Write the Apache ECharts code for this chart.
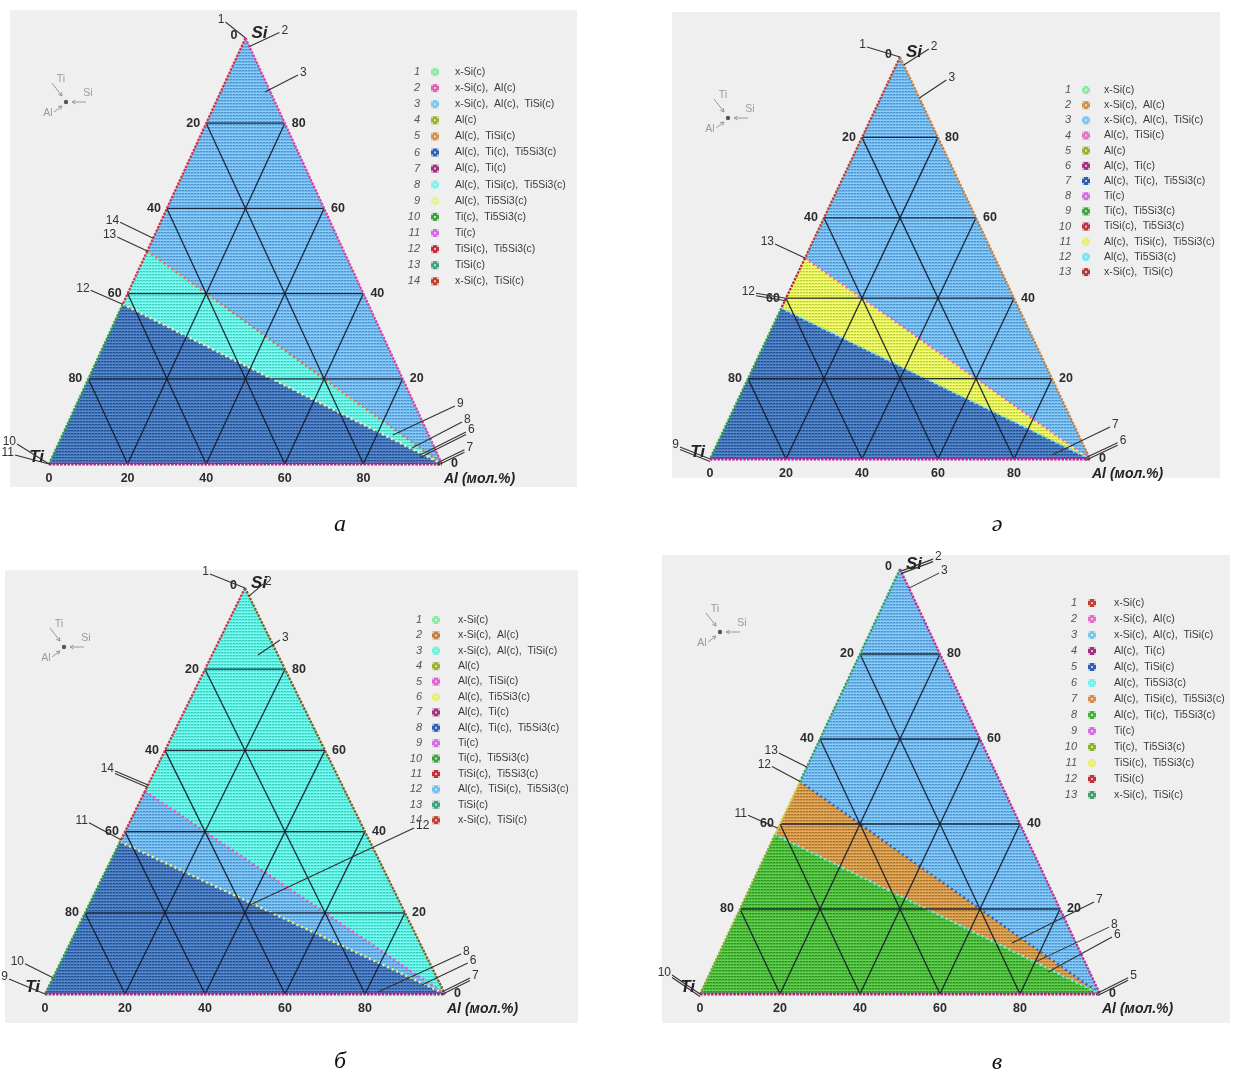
<!DOCTYPE html>
<html><head><meta charset="utf-8">
<script src="https://cdn.jsdelivr.net/npm/echarts@6/dist/echarts.min.js"></script>
<style>html,body{margin:0;padding:0;background:#fff}#c{width:1234px;height:1076px}</style>
</head><body><div id="c"></div>
<script>
// ---------- DATA ----------
// phase compositions, mol.% [Ti, Si, Al]
const SI = [0,100,0], TISI = [50,50,0], TI5SI3 = [62.5,37.5,0], TI = [100,0,0], AL = [0,0,100];
// phase-field polygons (same topology on the four sections)
const REGIONS = [[SI,TISI,AL],[TISI,TI5SI3,AL],[TI5SI3,TI,AL]];
const BOUNDS = [[TISI,AL],[TI5SI3,AL]];
const EDGES = [[SI,TISI],[TISI,TI5SI3],[TI5SI3,TI],[SI,AL],[TI,AL]];
const gridTicks = [20,40,60,80];
const tiTicks = [0,20,40,60,80];     // left side (Ti)
const siTicks = [80,60,40,20,0];     // right side (Si)
const alTicks = [0,20,40,60,80];     // base (Al)
const captions = ['а','ә','б','в'];

const legA = ['x-Si(c)','x-Si(c),  Al(c)','x-Si(c),  Al(c),  TiSi(c)','Al(c)','Al(c),  TiSi(c)','Al(c),  Ti(c),  Ti5Si3(c)','Al(c),  Ti(c)','Al(c),  TiSi(c),  Ti5Si3(c)','Al(c),  Ti5Si3(c)','Ti(c),  Ti5Si3(c)','Ti(c)','TiSi(c),  Ti5Si3(c)','TiSi(c)','x-Si(c),  TiSi(c)'];
const legB = ['x-Si(c)','x-Si(c),  Al(c)','x-Si(c),  Al(c),  TiSi(c)','Al(c),  TiSi(c)','Al(c)','Al(c),  Ti(c)','Al(c),  Ti(c),  Ti5Si3(c)','Ti(c)','Ti(c),  Ti5Si3(c)','TiSi(c),  Ti5Si3(c)','Al(c),  TiSi(c),  Ti5Si3(c)','Al(c),  Ti5Si3(c)','x-Si(c),  TiSi(c)'];
const legC = ['x-Si(c)','x-Si(c),  Al(c)','x-Si(c),  Al(c),  TiSi(c)','Al(c)','Al(c),  TiSi(c)','Al(c),  Ti5Si3(c)','Al(c),  Ti(c)','Al(c),  Ti(c),  Ti5Si3(c)','Ti(c)','Ti(c),  Ti5Si3(c)','TiSi(c),  Ti5Si3(c)','Al(c),  TiSi(c),  Ti5Si3(c)','TiSi(c)','x-Si(c),  TiSi(c)'];
const legD = ['x-Si(c)','x-Si(c),  Al(c)','x-Si(c),  Al(c),  TiSi(c)','Al(c),  Ti(c)','Al(c),  TiSi(c)','Al(c),  Ti5Si3(c)','Al(c),  TiSi(c),  Ti5Si3(c)','Al(c),  Ti(c),  Ti5Si3(c)','Ti(c)','Ti(c),  Ti5Si3(c)','TiSi(c),  Ti5Si3(c)','TiSi(c)','x-Si(c),  TiSi(c)'];
const LEGENDS = [legA, legB, legC, legD];

// callouts: [label, anchor composition [Ti,Si,Al], double leader]
const callA = [['1',SI],['2',[0,98,2]],['3',[1.4,87.3,11.3]],['14',[47,53,0]],['13',TISI],['12',TI5SI3],['10',TI],['11',TI],['9',[9.1,6.8,84.1]],['8',[5.75,3.75,90.5]],['6',[4.55,2.1,93.35],1],['7',[1,0.3,98.7],1]];
const callB = [['1',SI],['2',[0,98,2]],['3',[0,89.8,10.2]],['13',TISI],['12',[60,40,0],1],['9',TI,1],['7',[9.5,1,89.5]],['6',[1,0.3,98.7],1]];
const callC = [['1',SI],['2',[0,98,2]],['3',[5,83.5,11.5]],['14',[48.5,51.5,0],1],['11',[62,38,0]],['12',[37.8,21.9,40.3]],['10',[96,4,0]],['9',TI],['8',[16.5,0.5,83]],['6',[4.7,2.2,93.1]],['7',[0.5,0.5,99],1]];
const callD = [['2',[0,99.5,0.5],1],['3',[0,95.5,4.5]],['13',[46.6,53.4,0]],['12',TISI],['11',[61,39,0]],['10',TI,1],['7',[16,12,72]],['8',[12.5,7.5,80]],['6',[10.4,5.2,84.4]],['5',[0.3,0.3,99.4],1]];
const CALLS = [callA, callB, callC, callD];

// ---------- STYLE / LAYOUT ----------
const LAYOUT = [
 {bg:[10,10,567,477], tri:[49,442,464,38], leg:[420,435,455,72,16.1], ori:[66,102], cap:[340,525]},
 {bg:[672,12,548,466], tri:[710,1090,459,57], leg:[1071,1086,1104,90,15.17], ori:[728,118], cap:[997,525]},
 {bg:[5,570,573,453], tri:[45,445,994,588], leg:[422,436,458,620,15.4], ori:[64,647], cap:[340,1062]},
 {bg:[662,555,568,468], tri:[700,1100,994,569], leg:[1077,1092,1114,603,16], ori:[720,632], cap:[997,1063]}
];
// callout leader offsets (px) per panel, same order as callouts
const CALL_OFF = [
 [[-20,-16],[30,-14],[33,-17],[-33,-16],[-30,-14],[-32,-14],[-32,-20],[-34,-9],[62,-29],[50,-26],[46,-23],[27,-13]],
 [[-33,-10],[25,-16],[27,-18],[-30,-14],[-30,-5],[-30,-12],[58,-28],[32,-15]],
 [[-35,-14],[14,-12],[22,-15],[-33,-14],[-32,-17],[164,-77],[-28,-14],[-36,-15],[83,-38],[46,-22],[28,-14]],
 [[32,-12],[30,-15],[-28,-14],[-28,-15],[-30,-13],[-28,-19],[82,-41],[74,-35],[64,-35],[30,-15]]
];
const FILLS = [
 ['#70b6eb','#66efe0','#4173b6'],
 ['#70b6eb','#e2f05c','#4173b6'],
 ['#5eedde','#6cb3e8','#4173b6'],
 ['#70b6eb','#cf9548','#4cb83c']
];
const BOUND_COL = [['#e07040','#f4f4a8'],['#f060c0','#70e0f0'],['#f050c0','#f0f080'],['#2f5fc0','#60f0f0']];
const EDGE_COL = [
 ['#d83040','#d83040','#30a040','#e040a0','#a02880'],
 ['#c04030','#c02040','#30a040','#c88040','#c02090'],
 ['#d03040','#d03040','#30a040','#806020','#a02880'],
 ['#30a060','#d0d040','#80b030','#c03090','#a02880']
];
const LEG_COL = [
 ['#90e8a8','#e060b0','#80c4ee','#9cb030','#d09050','#2f5fb0','#a03080','#80f2ea','#e8f098','#40a040','#d070e0','#c03040','#40a080','#c04030'],
 ['#90e8a8','#d09050','#80c4ee','#e070c8','#9cb030','#a03080','#2f5fb0','#d070e0','#40a040','#c03040','#e8f070','#70e8f0','#b04040'],
 ['#90e8a8','#c08040','#70f0e0','#9cb030','#e060d0','#e8f070','#a03080','#2f5fb0','#d070e0','#40a040','#c03040','#70c0ee','#40a080','#c04030'],
 ['#c04030','#e070c8','#80c4ee','#a03080','#2f5fb0','#70f0f0','#d09050','#40b040','#d070e0','#8cb030','#e8f070','#c03040','#40a070']
];

function hex2rgb(h){h=h.replace('#','');return [0,2,4].map(i=>parseInt(h.substr(i,2),16));}
function rgb(a){return 'rgb('+a.map(v=>Math.max(0,Math.min(255,Math.round(v)))).join(',')+')';}
function makePattern(avg,d){
  const m=hex2rgb(avg), L=m.map(v=>v+d), D=m.map(v=>v-1.5*d);
  const cv=document.createElement('canvas'); cv.width=3; cv.height=3;
  const g=cv.getContext('2d');
  g.fillStyle=rgb(m); g.fillRect(0,0,3,3);
  g.fillStyle=rgb(L); g.fillRect(0,0,3,1);
  g.fillStyle=rgb(D); g.fillRect(0,1,1,1); g.fillRect(2,1,1,1);
  return {image:cv, repeat:'repeat'};
}
const PAT = FILLS.map(row=>row.map(c=>makePattern(c,24)));

// ternary -> cartesian data units (x: 0..100 along Ti->Al, y: Si %)
function tern(p){const s=p[0]+p[1]+p[2]; const si=p[1]/s*100, al=p[2]/s*100; return [al+si/2, si];}

function txt(x,y,text,font,fill,align,valign){
  return {type:'text', z:100, x:x, y:y, style:{text:text, font:font, fill:fill, align:align||'left', verticalAlign:valign||'middle', textAlign:align||'left', textVerticalAlign:valign||'middle'}};
}
function seg(a,b,stroke,w,dash){
  const st={stroke:stroke, lineWidth:w}; if(dash) st.lineDash=dash;
  return {type:'line', z:100, shape:{x1:a[0],y1:a[1],x2:b[0],y2:b[1]}, style:st};
}

const TICKFONT='bold 12.5px "Liberation Sans", Arial, sans-serif';
const TICKCOL='#2b2b2b';

function renderPanel(i){
  return function(params, api){
    if(params.dataIndex!==0) return null;
    const c = p => api.coord(tern(p));
    const kids=[];
    REGIONS.forEach((poly,k)=>kids.push({type:'polygon', shape:{points:poly.map(c)}, style:{fill:PAT[i][k]}}));
    BOUNDS.forEach((b,k)=>kids.push(seg(c(b[0]),c(b[1]),BOUND_COL[i][k],2.4,[2,3])));
    gridTicks.forEach(k=>{
      [[[100-k,k,0],[0,k,100-k]],[[100-k,0,k],[0,100-k,k]],[[k,100-k,0],[k,0,100-k]]].forEach(s=>{
        kids.push(seg(c(s[0]),c(s[1]),'rgba(20,25,40,0.9)',1.3));
      });
    });
    EDGES.forEach((e,k)=>kids.push(seg(c(e[0]),c(e[1]),EDGE_COL[i][k],k===4?3:2.2,[2.5,1.2])));
    // tick labels
    tiTicks.forEach(v=>{const p=c([v,100-v,0]); kids.push(txt(p[0]-(v===0?8:6),p[1]+(v===0?-2:0),String(v),TICKFONT,TICKCOL,'right'));});
    siTicks.forEach(v=>{const p=c([0,v,100-v]); kids.push(txt(p[0]+(v===0?9:7),p[1],String(v),TICKFONT,TICKCOL,'left'));});
    alTicks.forEach(v=>{const p=c([100-v,0,v]); kids.push(txt(p[0],p[1]+15,String(v),TICKFONT,TICKCOL,'center'));});
    // vertex labels
    const ps=c(SI), pt=c(TI), pa=c(AL);
    kids.push(txt(ps[0]+6,ps[1]-5,'Si','bold italic 17px "Liberation Sans", Arial, sans-serif','#222','left'));
    kids.push(txt(pt[0]-5,pt[1]-7,'Ti','bold italic 17px "Liberation Sans", Arial, sans-serif','#222','right'));
    kids.push(txt(pa[0]+2,pa[1]+15,'Al (мол.%)','bold italic 14px "Liberation Sans", Arial, sans-serif','#222','left'));
    // callouts
    CALLS[i].forEach((cl,k)=>{
      const a=c(cl[1]), o=CALL_OFF[i][k], e=[a[0]+o[0], a[1]+o[1]];
      kids.push(seg(a,e,'#333',1.1));
      if(cl[2]){kids.push(seg([a[0],a[1]+2.5],[e[0],e[1]+2.5],'#333',1.1));}
      kids.push(txt(e[0]+(o[0]<0?-1:2), e[1]-2, cl[0], '12px "Liberation Sans", Arial, sans-serif', '#333', o[0]<0?'right':'left'));
    });
    return {type:'group', children:kids};
  };
}
function renderBg(i){
  return function(params, api){
    if(params.dataIndex!==0) return null;
    const b=LAYOUT[i].bg;
    return {type:'rect', shape:{x:b[0],y:b[1],width:b[2],height:b[3]}, style:{fill:'#efefef'}};
  };
}

const grids=[], xAxes=[], yAxes=[], series=[], elements=[];
LAYOUT.forEach((L,i)=>{
  const t=L.tri;
  grids.push({left:t[0], top:t[3], width:t[1]-t[0], height:t[2]-t[3], containLabel:false});
  xAxes.push({gridIndex:i, type:'value', min:0, max:100, show:false});
  yAxes.push({gridIndex:i, type:'value', min:0, max:100, show:false});
  series.push({type:'custom', xAxisIndex:i, yAxisIndex:i, z:1, silent:true, data:[[50,50]], renderItem:renderBg(i)});
  series.push({type:'custom', xAxisIndex:i, yAxisIndex:i, z:2, silent:true, data:[[50,50]], renderItem:renderPanel(i)});
  // legend
  const lg=L.leg;
  LEGENDS[i].forEach((name,k)=>{
    const y=lg[3]+k*lg[4];
    elements.push(txt(lg[0],y,String(k+1),'italic 11px "Liberation Sans", Arial, sans-serif','#555','right'));
    const col=LEG_COL[i][k];
    elements.push({type:'rect', z:100, shape:{x:lg[1]-4,y:y-4,width:8,height:8}, style:{fill:col}});
    [[0,0],[3,0],[6,0],[0,3],[3,3],[6,3],[0,6],[3,6],[6,6]].forEach((q,j)=>{
      if(j%2===0) elements.push({type:'rect', z:101, shape:{x:lg[1]-4+q[0],y:y-4+q[1],width:2,height:2}, style:{fill:'rgba(239,239,239,0.75)'}});
    });
    elements.push(txt(lg[2],y,name,'10.5px "Liberation Sans", Arial, sans-serif','#3a3a3a','left'));
  });
  // orientation mark
  const o=L.ori, gc='#9a9a9a', f='10.5px "Liberation Sans", Arial, sans-serif';
  elements.push({type:'circle', z:100, shape:{cx:o[0],cy:o[1],r:2.2}, style:{fill:'#555'}});
  elements.push(txt(o[0]-5,o[1]-23,'Ti',f,gc,'center'));
  elements.push(txt(o[0]+22,o[1]-9,'Si',f,gc,'center'));
  elements.push(txt(o[0]-18,o[1]+11,'Al',f,gc,'center'));
  const arr=(x1,y1,x2,y2)=>{
    const ang=Math.atan2(y2-y1,x2-x1), h=4;
    elements.push({type:'line', z:100, shape:{x1,y1,x2,y2}, style:{stroke:gc,lineWidth:1}});
    elements.push({type:'polyline', z:100, shape:{points:[[x2-h*Math.cos(ang-0.5),y2-h*Math.sin(ang-0.5)],[x2,y2],[x2-h*Math.cos(ang+0.5),y2-h*Math.sin(ang+0.5)]]}, style:{stroke:gc,lineWidth:1,fill:null}});
  };
  arr(o[0]-14,o[1]-19,o[0]-4,o[1]-6);
  arr(o[0]+20,o[1],o[0]+6,o[1]);
  arr(o[0]-12,o[1]+10,o[0]-4,o[1]+4);
  // caption
  elements.push(txt(L.cap[0],L.cap[1],captions[i],'italic 24px "Liberation Serif", "DejaVu Serif", serif','#111','center'));
});

const chart=echarts.init(document.getElementById('c'));
chart.setOption({
  animation:false,
  backgroundColor:'#ffffff',
  grid:grids, xAxis:xAxes, yAxis:yAxes, series:series,
  graphic:{elements:elements}
});
</script></body></html>
